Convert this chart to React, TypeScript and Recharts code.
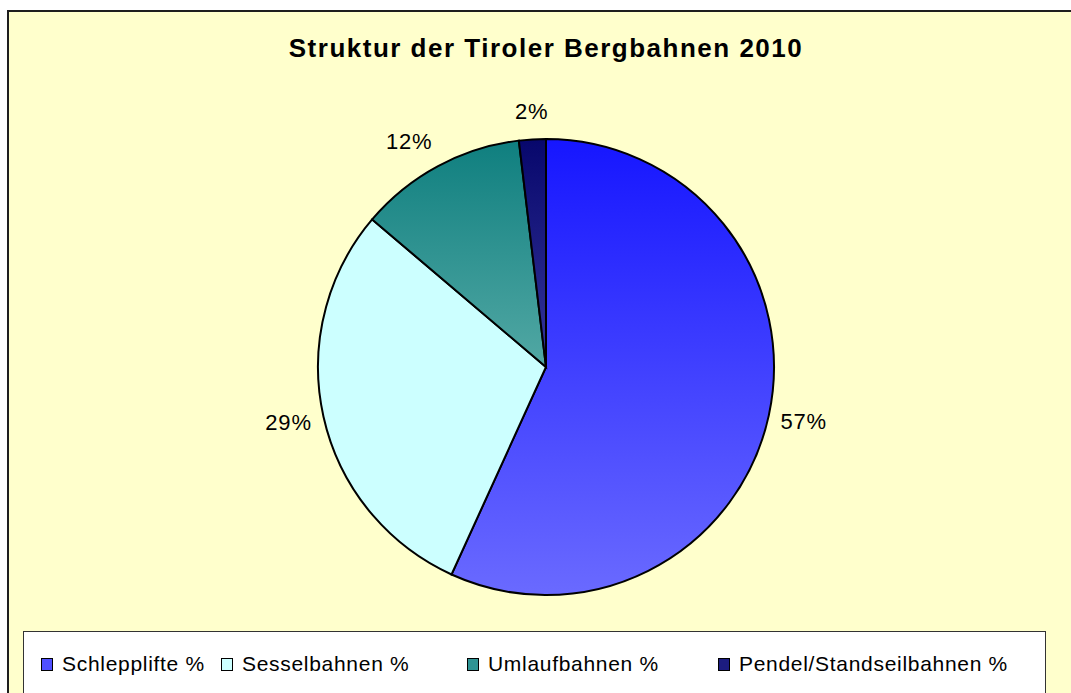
import React from "react";
import { PieChart, Pie, Cell, Legend } from "recharts";

const categories = [
  "Schlepplifte %",
  "Sesselbahnen %",
  "Umlaufbahnen %",
  "Pendel/Standseilbahnen %",
];
const shares = [56.8, 29.4, 11.9, 1.9];

const data = categories.map((name, i) => ({ name, value: shares[i] }));

// gradient top/bottom per slice, solid colour for legend swatch
const gradients = [
  { id: "gSchlepp", top: "#1616ff", bottom: "#6a6aff" },
  { id: "gSessel", top: "#ccffff", bottom: "#ccffff" },
  { id: "gUmlauf", top: "#0f7f7f", bottom: "#52a8a4" },
  { id: "gPendel", top: "#07076c", bottom: "#35359a" },
];
const swatches = ["#5050ff", "#ccffff", "#2e9494", "#1c1c80"];
const swatchX = [17, 197, 443, 694];

const FONT = "'Liberation Sans', Arial, sans-serif";
const CX = 546;
const CY = 367;
const R = 228;

const RAD = Math.PI / 180;

function renderLabel(props: any) {
  const { midAngle, value } = props;
  const text = `${Math.round(value)}%`;
  const h = 32;
  const cos = Math.cos(-midAngle * RAD);
  const sin = Math.sin(-midAngle * RAD);
  const r0 = R + 12;
  const x = CX + r0 * cos;
  const y = CY + r0 * sin + (h / 2) * sin;
  const anchor = cos > 0.1 ? "start" : cos < -0.1 ? "end" : "middle";
  return (
    <text
      x={x}
      y={y}
      textAnchor={anchor}
      dominantBaseline="central"
      fontFamily={FONT}
      fontSize={22}
      letterSpacing={0.8}
      fill="#000"
    >
      {text}
    </text>
  );
}

function LegendBox() {
  return (
    <div
      style={{
        position: "relative",
        width: 1023,
        height: 80,
        boxSizing: "border-box",
        border: "1px solid #333",
        background: "#ffffff",
        fontFamily: FONT,
        fontSize: 21,
        letterSpacing: 0.7,
        color: "#000",
      }}
    >
      {categories.map((name, i) => (
        <div
          key={name}
          style={{
            position: "absolute",
            left: swatchX[i],
            top: 20,
            display: "flex",
            alignItems: "center",
            whiteSpace: "nowrap",
            lineHeight: "24px",
          }}
        >
          <span
            style={{
              display: "inline-block",
              width: 10,
              height: 11,
              border: "1px solid #000",
              background: swatches[i],
              marginRight: 9,
            }}
          />
          {name}
        </div>
      ))}
    </div>
  );
}

export default function App() {
  return (
    <div
      style={{
        position: "absolute",
        left: 0,
        top: 0,
        width: 1071,
        height: 693,
        overflow: "hidden",
        background: "#ffffff",
      }}
    >
      {/* chart area frame */}
      <div
        style={{
          position: "absolute",
          left: 7,
          top: 10,
          width: 1100,
          height: 700,
          border: "2px solid #1e1e1e",
          background: "#ffffcc",
        }}
      />

      {/* title */}
      <div
        style={{
          position: "absolute",
          left: 246,
          top: 33,
          width: 600,
          textAlign: "center",
          fontFamily: FONT,
          fontWeight: "bold",
          fontSize: 26,
          lineHeight: "30px",
          letterSpacing: 1.5,
          color: "#000",
        }}
      >
        Struktur der Tiroler Bergbahnen 2010
      </div>

      <div style={{ position: "absolute", left: 0, top: 0 }}>
        <PieChart
          width={1071}
          height={693}
          margin={{ top: 0, right: 0, bottom: 0, left: 0 }}
        >
          <defs>
            {gradients.map((g) => (
              <linearGradient key={g.id} id={g.id} x1="0" y1="0" x2="0" y2="1">
                <stop offset="0%" stopColor={g.top} />
                <stop offset="100%" stopColor={g.bottom} />
              </linearGradient>
            ))}
          </defs>
          <Pie
            data={data}
            dataKey="value"
            nameKey="name"
            cx={CX}
            cy={CY}
            outerRadius={R}
            startAngle={90}
            endAngle={-270}
            stroke="#000"
            strokeWidth={2}
            label={renderLabel}
            labelLine={false}
            isAnimationActive={false}
          >
            {data.map((d, i) => (
              <Cell key={d.name} fill={`url(#${gradients[i].id})`} />
            ))}
          </Pie>
          <Legend
            content={() => <LegendBox />}
            wrapperStyle={{ position: "absolute", left: 23, top: 631, width: 1023, height: 80 }}
          />
        </PieChart>
      </div>
    </div>
  );
}
